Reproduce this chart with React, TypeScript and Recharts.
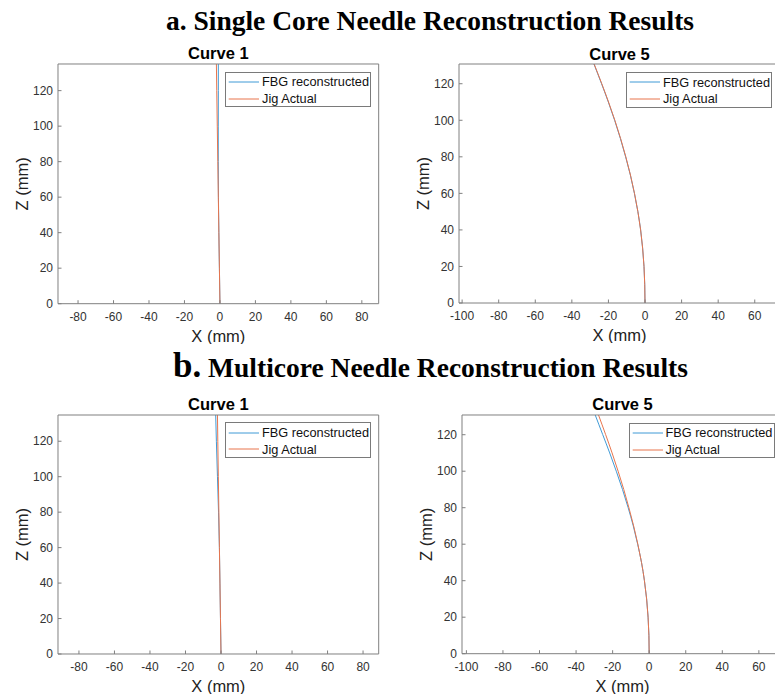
import { LineChart, Line, XAxis, YAxis, Legend } from 'recharts';

// needle shape readings, x (mm) at each height z (mm)
const zCurve1 = [0, 20, 40, 60, 80, 100, 120, 135];
const fbgCurve1a = [0, -0.3, -0.6, -0.85, -0.95, -0.95, -0.9, -0.9];
const jigCurve1a = [0, -0.3, -0.6, -0.9, -1.2, -1.5, -1.8, -2.0];
const fbgCurve1b = [0, -0.3, -0.6, -0.9, -1.4, -2.0, -2.6, -3.0];
const jigCurve1b = [0, -0.3, -0.6, -0.9, -1.2, -1.5, -1.8, -2.0];

const zCurve5 = [0, 10, 20, 30, 40, 50, 60, 70, 80, 90, 100, 110, 120, 131];
const fbgCurve5a = [0, -0.15, -0.55, -1.3, -2.4, -3.9, -5.8, -8.0, -10.6, -13.45, -16.6, -20.05, -23.75, -28.0];
const jigCurve5a = [0, -0.15, -0.55, -1.3, -2.4, -3.9, -5.75, -7.95, -10.5, -13.35, -16.5, -19.95, -23.65, -27.9];
const fbgCurve5b = [0, -0.15, -0.6, -1.4, -2.6, -4.2, -6.3, -8.7, -11.5, -14.6, -18.0, -21.6, -25.4, -29.6];
const jigCurve5b = [0, -0.15, -0.6, -1.4, -2.6, -4.2, -6.2, -8.5, -11.1, -13.9, -17.0, -20.3, -23.8, -27.8];

const xTicksWide = [-80, -60, -40, -20, 0, 20, 40, 60, 80];
const xTicksShift = [-100, -80, -60, -40, -20, 0, 20, 40, 60];
const zTicks = [0, 20, 40, 60, 80, 100, 120];

const seriesNames = ['FBG reconstructed', 'Jig Actual'];
const seriesColors = ['#3f9ad6', '#e8744c'];

const SANS = 'Liberation Sans, Arial, sans-serif';
const SERIF = 'Liberation Serif, Times New Roman, serif';
const AXIS = '#808080';

const toPts = (xs: number[], zs: number[]) => zs.map((z, i) => ({ x: xs[i], z }));

type Pt = { x: number; z: number };
type PanelCfg = {
  left: number;
  top: number;
  width: number;
  height: number;
  xDomain: [number, number];
  zMax: number;
  xTicks: number[];
  title: string;
  fbg: Pt[];
  jig: Pt[];
};

const panels: PanelCfg[] = [
  {
    left: 58.3, top: 64, width: 320.7, height: 239.7,
    xDomain: [-91.3, 89.5], zMax: 135, xTicks: xTicksWide, title: 'Curve 1',
    fbg: toPts(fbgCurve1a, zCurve1), jig: toPts(jigCurve1a, zCurve1),
  },
  {
    left: 459.3, top: 64.3, width: 321, height: 239,
    xDomain: [-101.7, 73.8], zMax: 130.8, xTicks: xTicksShift, title: 'Curve 5',
    fbg: toPts(fbgCurve5a, zCurve5), jig: toPts(jigCurve5a, zCurve5),
  },
  {
    left: 58.3, top: 414.7, width: 320.7, height: 239,
    xDomain: [-91.8, 88.8], zMax: 134.8, xTicks: xTicksWide, title: 'Curve 1',
    fbg: toPts(fbgCurve1b, zCurve1), jig: toPts(jigCurve1b, zCurve1),
  },
  {
    left: 461.7, top: 415, width: 321, height: 238.7,
    xDomain: [-102.4, 73.2], zMax: 130.8, xTicks: xTicksShift, title: 'Curve 5',
    fbg: toPts(fbgCurve5b, zCurve5), jig: toPts(jigCurve5b, zCurve5),
  },
];

// top/right axes need a size > 0 or recharts skips them
const M = { top: 29, left: 15, right: 19, bottom: 0 };
const Y_W = 45;
const X_H = 40;
const TICK = -3.5;

const LegendBox = (props: any) => {
  const payload = (props.payload || []).filter((e: any) => e.type !== 'none');
  return (
    <div
      style={{
        width: 146,
        height: 35.6,
        boxSizing: 'border-box',
        border: '1px solid #7a7a7a',
        background: '#fff',
        paddingTop: 1,
        fontFamily: SANS,
        fontSize: 12.75,
        color: '#111',
      }}
    >
      {payload.map((e: any) => (
        <div key={e.value} style={{ display: 'flex', alignItems: 'center', height: 16.6 }}>
          <svg width={33} height={4} style={{ flex: 'none' }}>
            <line x1={2.7} x2={33} y1={2} y2={2} stroke={e.color} strokeWidth={1} />
          </svg>
          <span style={{ marginLeft: 2.7, whiteSpace: 'nowrap' }}>{e.value}</span>
        </div>
      ))}
    </div>
  );
};

const Panel = ({ p }: { p: PanelCfg }) => {
  const w = p.width + M.left + Y_W + M.right + 1;
  const h = p.height + M.top + 1 + X_H;
  const tickStyle = { fill: '#333', fontSize: 12, fontFamily: SANS };
  const curveType = p.title === 'Curve 5' ? 'natural' : 'linear';
  return (
    <div style={{ position: 'absolute', left: p.left - M.left - Y_W, top: p.top - M.top - 1 }}>
      <LineChart width={w} height={h} margin={M}>
        <XAxis
          xAxisId='b'
          type='number'
          dataKey='x'
          domain={p.xDomain}
          allowDataOverflow
          ticks={p.xTicks}
          interval={0}
          height={X_H}
          tickSize={TICK}
          tickMargin={12}
          stroke={AXIS}
          tick={tickStyle}
          label={{ value: 'X (mm)', position: 'insideTop', offset: 26.3, fill: '#222', fontSize: 16.5, fontFamily: SANS }}
        />
        <XAxis
          xAxisId='t'
          orientation='top'
          type='number'
          dataKey='x'
          domain={p.xDomain}
          allowDataOverflow
          ticks={p.xTicks}
          interval={0}
          height={1}
          tickSize={TICK}
          stroke={AXIS}
          tick={false}
          label={{ value: p.title, position: 'top', offset: 3.5, fill: '#000', fontSize: 16.5, fontWeight: 'bold', fontFamily: SANS }}
        />
        <YAxis
          yAxisId='l'
          type='number'
          domain={[0, p.zMax]}
          allowDataOverflow
          ticks={zTicks}
          interval={0}
          width={Y_W}
          tickSize={TICK}
          tickMargin={8.5}
          stroke={AXIS}
          tick={tickStyle}
          label={{ value: 'Z (mm)', angle: -90, position: 'insideLeft', offset: 8.7, fill: '#222', fontSize: 16.5, fontFamily: SANS, style: { textAnchor: 'middle' } }}
        />
        <YAxis
          yAxisId='r'
          orientation='right'
          type='number'
          domain={[0, p.zMax]}
          allowDataOverflow
          ticks={zTicks}
          interval={0}
          width={1}
          tickSize={TICK}
          stroke={AXIS}
          tick={false}
        />
        <Legend
          layout='vertical'
          align='center'
          verticalAlign='middle'
          content={LegendBox}
          wrapperStyle={{ left: M.left + Y_W + 167, top: M.top + 1 + 7.7, width: 146 }}
        />
        {/* invisible copy so the mirrored top/right axes have data */}
        <Line
          xAxisId='t'
          yAxisId='r'
          data={p.jig}
          dataKey='z'
          stroke='none'
          legendType='none'
          dot={false}
          activeDot={false}
          isAnimationActive={false}
        />
        <Line
          xAxisId='b'
          yAxisId='l'
          data={p.fbg}
          dataKey='z'
          name={seriesNames[0]}
          type={curveType}
          stroke={seriesColors[0]}
          strokeWidth={1}
          dot={false}
          activeDot={false}
          isAnimationActive={false}
        />
        <Line
          xAxisId='b'
          yAxisId='l'
          data={p.jig}
          dataKey='z'
          name={seriesNames[1]}
          type={curveType}
          stroke={seriesColors[1]}
          strokeWidth={1}
          dot={false}
          activeDot={false}
          isAnimationActive={false}
        />
      </LineChart>
    </div>
  );
};

const App = () => {
  return (
    <div
      style={{
        position: 'absolute',
        left: 0,
        top: 0,
        width: 775,
        height: 696,
        overflow: 'hidden',
        background: '#fff',
      }}
    >
      <svg width={775} height={696} style={{ position: 'absolute', left: 0, top: 0 }}>
        <text x={166} y={30} fontFamily={SERIF} fontWeight='bold' fontSize={27.5} fill='#000'>
          a. Single Core Needle Reconstruction Results
        </text>
        <text x={173} y={376.7} fontFamily={SERIF} fontWeight='bold' fontSize={27.5} fill='#000'>
          <tspan fontSize={35}>b.</tspan> Multicore Needle Reconstruction Results
        </text>
      </svg>
      {panels.map((p, i) => (
        <Panel key={i} p={p} />
      ))}
    </div>
  );
};

export default App;
